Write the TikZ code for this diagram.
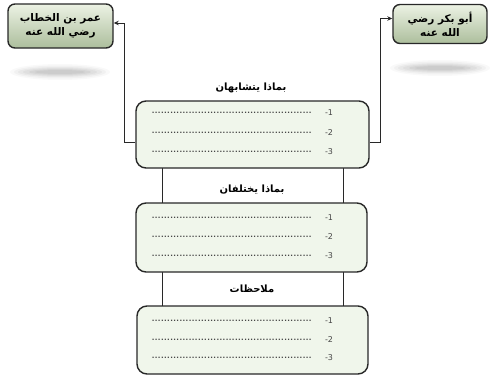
\documentclass[tikz,border=0pt]{standalone}
\usepackage{fontspec}
\TeXXeTstate=1
\newfontfamily\arabicfont[Script=Arabic]{DejaVu Sans}
\newfontfamily\numfont{DejaVu Sans}
\usetikzlibrary{arrows.meta}
\definecolor{boxfill}{RGB}{240,246,235}
\definecolor{topA}{RGB}{236,242,228}
\definecolor{topB}{RGB}{172,190,156}
\definecolor{edge}{RGB}{40,40,40}
\definecolor{txtgray}{RGB}{70,70,70}
\tikzset{
  greenbox/.style={draw=edge, line width=1.4pt, rounded corners=10pt, fill=boxfill, inner sep=0pt},
  headbox/.style={draw=edge, line width=1.4pt, rounded corners=7pt, top color=topA, bottom color=topB, inner sep=0pt, align=center, font=\arabicfont\bfseries\fontsize{10.5}{14}\selectfont},
  title/.style={font=\arabicfont\bfseries\fontsize{10}{12}\selectfont},
  dotrow/.style={anchor=west, inner sep=0pt, text=txtgray, font=\numfont\bfseries\fontsize{7}{8}\selectfont},
  numlbl/.style={inner sep=0pt, text=txtgray, font=\numfont\fontsize{8}{9}\selectfont},
  conn/.style={draw=edge, line width=1pt, -{Stealth[length=5pt,width=4.5pt]}},
  frame/.style={draw=edge, line width=0.9pt, fill=white}
}
\begin{document}
\begin{tikzpicture}[x=1pt,y=-1pt]
\useasboundingbox (0,0) rectangle (490,380);
% shadows under top boxes
\foreach \w/\h/\o in {100/16/0.025,92/13/0.03,84/10/0.035,74/8/0.04,62/6/0.045,50/4/0.045}{
  \fill[black, opacity=\o] (60,72) ellipse ({\w/2} and {\h/2});
  \fill[black, opacity=\o] (440,68) ellipse ({\w/2} and {\h/2});
}
% vertical frame joining the boxes
\draw[frame] (162,160) rectangle (343,310);
% head boxes
\node[headbox, minimum width=105pt, minimum height=44pt] (omar) at (60.5,26) {\beginR عمر بن الخطاب\endR\\\beginR رضي الله عنه\endR};
\node[headbox, minimum width=94pt, minimum height=39pt] (abu) at (440,24) {\beginR أبو بكر رضي\endR\\\beginR الله عنه\endR};
% green boxes
\node[greenbox, minimum width=233pt, minimum height=67pt] (b1) at (252.5,134.5) {};
\node[greenbox, minimum width=231pt, minimum height=69pt] (b2) at (251.5,237.5) {};
\node[greenbox, minimum width=231pt, minimum height=68pt] (b3) at (252.5,340) {};
% titles
\node[title] (t1) at (251,88) {\beginR بماذا يتشابهان\endR};
\node[title] (t2) at (252,190) {\beginR بماذا يختلفان\endR};
\node[title] (t3) at (252,289) {\beginR ملاحظات\endR};
% rows
\foreach \b/\ya/\yb/\yc in {1/113/133/152,2/218/237/256,3/321/340/358}{
  \foreach \y/\n in {\ya/1,\yb/2,\yc/3}{
    \node[dotrow] (d\b\n) at (150,\y) {\makebox[163pt]{\dotfill}};
    \node[numlbl] (n\b\n) at (329,\y) {\beginL-\n\endL};
  }
}
% connectors
\coordinate (lc) at (124,142);
\coordinate (rc) at (380,142);
\draw[conn] ([yshift=-7.5pt]b1.west) -- (lc) |- ([yshift=3pt]omar.east);
\draw[conn] ([yshift=-7.5pt]b1.east) -- (rc) |- ([yshift=5.5pt]abu.west);
\end{tikzpicture}
\end{document}
